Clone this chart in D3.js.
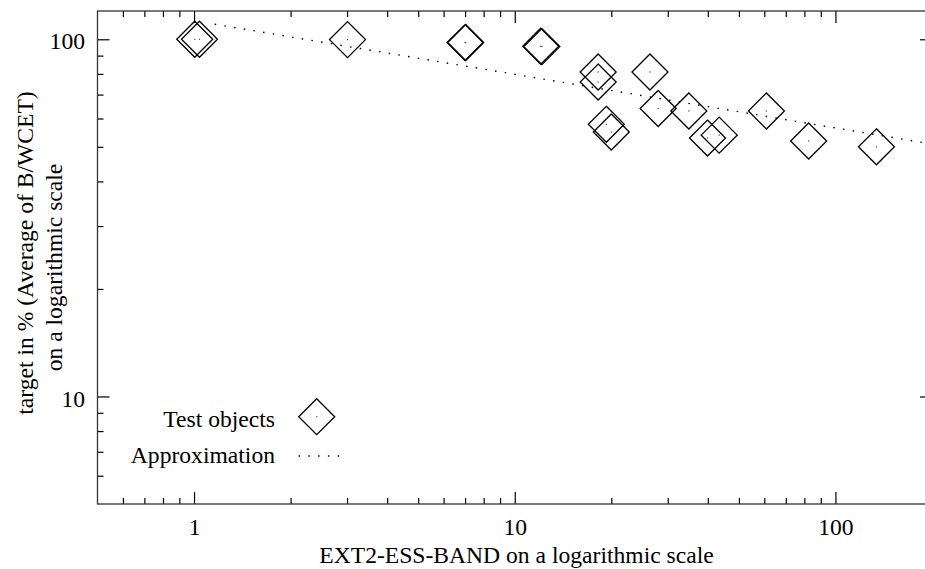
<!DOCTYPE html>
<html>
<head>
<meta charset="utf-8">
<script src="https://cdn.jsdelivr.net/npm/d3@7"></script>
<style>
  body { margin: 0; background: #fff; }
</style>
</head>
<body>
<svg id="chart" width="925" height="569"></svg>
<script>
// test objects (EXT2-ESS-BAND, target %)
const bandValues = [1.005, 1.04, 3.01, 7.0, 7.03, 12.05, 12.15, 18.2, 18.2, 19.3, 20.0, 26.4, 28.0, 34.9, 39.9, 43.4, 60.9, 82.5, 134.2]
const targetValues = [100, 100, 99.8, 97.9, 97.9, 95.6, 95.4, 81.0, 75.9, 57.8, 55.0, 81.0, 64.0, 63.0, 52.9, 53.9, 63.0, 51.9, 50.0]

// approximation line, end points
const approxX = [1.16, 200]
const approxY = [110.2, 50.9]

const xMajor = [1, 10, 100]
const xMinor = [0.6, 0.7, 0.8, 0.9, 2, 3, 4, 5, 6, 7, 8, 9, 20, 30, 40, 50, 60, 70, 80, 90, 200]
const yMajor = [10, 100]
const yMinor = [6, 7, 8, 9, 20, 30, 40, 50, 60, 70, 80, 90]

const plotLeft = 97.5, plotRight = 932, plotTop = 11, plotBottom = 504
const FONT = "'Liberation Serif', 'Times New Roman', serif"
const FSIZE = "23.6px"

let svg = d3.select("#chart")

let x = d3.scaleLog().domain([0.5, 200]).range([plotLeft, plotRight])
let y = d3.scaleLog().domain([5, 120]).range([plotBottom, plotTop])

svg.append("defs").append("clipPath").attr("id", "clip")
   .append("rect")
   .attr("x", plotLeft).attr("y", plotTop)
   .attr("width", plotRight - plotLeft).attr("height", plotBottom - plotTop)

function drawAxis(axis, tx, ty)
{
    let g = svg.append("g")
        .attr("transform", "translate(" + tx + "," + ty + ")")
        .call(axis)
    g.select(".domain").remove()
    g.selectAll(".tick line").attr("stroke", "#000").attr("stroke-width", 1.2)
    g.selectAll("text")
     .style("font-family", FONT)
     .style("font-size", FSIZE)
     .attr("fill", "#000")
    return g
}

// bottom
drawAxis(d3.axisBottom(x).tickValues(xMajor).tickSize(-12).tickPadding(14).tickFormat(d3.format("d")), 0, plotBottom)
drawAxis(d3.axisBottom(x).tickValues(xMinor).tickSize(-6).tickFormat(""), 0, plotBottom)
// top
drawAxis(d3.axisTop(x).tickValues(xMajor).tickSize(-12).tickFormat(""), 0, plotTop)
drawAxis(d3.axisTop(x).tickValues(xMinor).tickSize(-6).tickFormat(""), 0, plotTop)
// left
let ly = drawAxis(d3.axisLeft(y).tickValues(yMajor).tickSize(-12).tickPadding(12.5).tickFormat(d3.format("d")), plotLeft, 0)
ly.selectAll("text").attr("dy", "0.41em")
drawAxis(d3.axisLeft(y).tickValues(yMinor).tickSize(-6).tickFormat(""), plotLeft, 0)
// right
drawAxis(d3.axisRight(y).tickValues(yMajor).tickSize(-12).tickFormat(""), plotRight, 0)
drawAxis(d3.axisRight(y).tickValues(yMinor).tickSize(-6).tickFormat(""), plotRight, 0)

// frame
svg.append("rect")
   .attr("x", plotLeft).attr("y", plotTop)
   .attr("width", plotRight - plotLeft).attr("height", plotBottom - plotTop)
   .attr("fill", "none")
   .attr("stroke", "#333")
   .attr("stroke-width", 1.3)

// approximation
let approx = approxX.map((d, i) => [d, approxY[i]])
svg.append("path")
   .datum(approx)
   .attr("clip-path", "url(#clip)")
   .attr("d", d3.line().x(d => x(d[0])).y(d => y(d[1])))
   .attr("fill", "none")
   .attr("stroke", "#000")
   .attr("stroke-width", 1.4)
   .attr("stroke-dasharray", "1.5 8.3")

// diamonds
const half = 18
function diamond(cx, cy)
{
    return "M" + cx + "," + (cy - half) + "L" + (cx + half) + "," + cy +
           "L" + cx + "," + (cy + half) + "L" + (cx - half) + "," + cy + "Z"
}

let pts = bandValues.map((d, i) => ({ b: d, t: targetValues[i] }))
let marks = svg.append("g").attr("clip-path", "url(#clip)")
marks.selectAll("path.pt")
     .data(pts)
     .enter()
     .append("path")
     .classed("pt", true)
     .attr("d", d => diamond(x(d.b), y(d.t)))
     .attr("fill", "none")
     .attr("stroke", "#000")
     .attr("stroke-width", 1.3)
marks.selectAll("rect.dot")
     .data(pts)
     .enter()
     .append("rect")
     .classed("dot", true)
     .attr("x", d => x(d.b) - 0.6)
     .attr("y", d => y(d.t) - 0.6)
     .attr("width", 1.2).attr("height", 1.2)
     .attr("fill", "#444")

function label(xp, yp, anchor, txt)
{
    return svg.append("text")
              .attr("x", xp).attr("y", yp)
              .attr("text-anchor", anchor)
              .style("font-family", FONT)
              .style("font-size", FSIZE)
              .attr("fill", "#000")
              .text(txt)
}

// legend
label(275, 426.5, "end", "Test objects")
svg.append("path").attr("d", diamond(316.7, 416.7)).attr("fill", "none").attr("stroke", "#000").attr("stroke-width", 1.3)
svg.append("rect").attr("x", 316.1).attr("y", 416.1).attr("width", 1.2).attr("height", 1.2).attr("fill", "#444")
label(275, 463, "end", "Approximation")
svg.append("line")
   .attr("x1", 298.5).attr("x2", 341).attr("y1", 456).attr("y2", 456)
   .attr("stroke", "#000").attr("stroke-width", 1.4)
   .attr("stroke-dasharray", "1.5 8.3")

// axis titles
label(516.5, 563, "middle", "EXT2-ESS-BAND on a logarithmic scale")
label(0, 0, "middle", "target in % (Average of B/WCET)")
    .attr("transform", "translate(32.5,253) rotate(-90)")
label(0, 0, "middle", "on a logarithmic scale")
    .attr("transform", "translate(61.7,267.5) rotate(-90)")
</script>
</body>
</html>
